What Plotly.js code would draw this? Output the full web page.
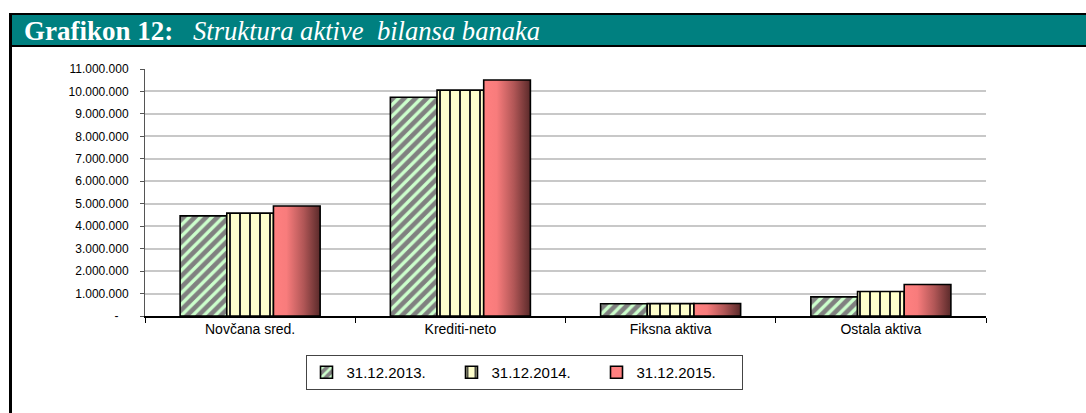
<!DOCTYPE html>
<html>
<head>
<meta charset="utf-8">
<script src="https://cdn.plot.ly/plotly-3.0.1.min.js"></script>
<style>
  html, body { margin: 0; padding: 0; background: #fff; }
  #chart { width: 1086px; height: 413px; }
</style>
</head>
<body>
<div id="chart"></div>
<script>
// ---- data ----
const categories = ["Novčana sred.", "Krediti-neto", "Fiksna aktiva", "Ostala aktiva"];
const seriesNames = ["31.12.2013.", "31.12.2014.", "31.12.2015."];
const values2013 = [4460000, 9740000, 545000, 850000];
const values2014 = [4580000, 10060000, 550000, 1090000];
const values2015 = [4900000, 10510000, 555000, 1400000];
const yTickVals = [0, 1000000, 2000000, 3000000, 4000000, 5000000, 6000000, 7000000, 8000000, 9000000, 10000000, 11000000];
const yTickText = ["-\u00a0\u00a0\u00a0", "1.000.000", "2.000.000", "3.000.000", "4.000.000", "5.000.000", "6.000.000", "7.000.000", "8.000.000", "9.000.000", "10.000.000", "11.000.000"];
const titleLabel = "Grafikon 12:";
const titleText = "Struktura aktive\u00a0\u00a0bilansa banaka";

// ---- layout helpers (pixel -> paper) ----
const W = 1086, H = 413;
const M = { l: 145, r: 100, t: 69, b: 97 };
const PW = W - M.l - M.r, PH = H - M.t - M.b;
const px = x => (x - M.l) / PW;
const py = y => (H - M.b - y) / PH;

const outline = { color: "#000", width: 1.6 };

const traces = [
  {
    type: "bar", name: seriesNames[0], x: categories, y: values2013,
    marker: { color: "#808080", line: outline,
      pattern: { shape: "/", fgcolor: "#ccffcc", bgcolor: "#808080", size: 8, solidity: 0.42 } },
    hoverinfo: "skip"
  },
  {
    type: "bar", name: seriesNames[1], x: categories, y: values2014,
    marker: { color: "#ffffcc", line: outline,
      pattern: { shape: "|", fgcolor: "#222222", bgcolor: "#ffffcc", size: 10, solidity: 0.2 } },
    hoverinfo: "skip"
  },
  {
    type: "bar", name: seriesNames[2], x: categories, y: values2015,
    marker: { color: "#ff8080", line: outline },
    hoverinfo: "skip"
  }
];

const layout = {
  width: W, height: H,
  margin: M,
  paper_bgcolor: "#fff", plot_bgcolor: "#fff",
  barmode: "group", bargap: 0.334, bargroupgap: 0,
  showlegend: true,
  font: { family: "Liberation Sans, Arial, sans-serif", color: "#000" },
  xaxis: {
    type: "category", showline: true, linecolor: "#000", linewidth: 1.5,
    ticks: "outside", tickson: "boundaries", ticklen: 5, tickcolor: "#000", tickwidth: 1,
    tickfont: { size: 14, color: "#000" }, showgrid: false, zeroline: false, fixedrange: true
  },
  yaxis: {
    range: [0, 11000000], tickmode: "array", tickvals: yTickVals, ticktext: yTickText,
    showline: true, linecolor: "#555", linewidth: 1, ticks: "outside", ticklen: 4, tickcolor: "#555",
    ticklabelstandoff: 9,
    showgrid: true, gridcolor: "#c8c8c8", gridwidth: 2, zeroline: false,
    tickfont: { size: 12, color: "#000" }, fixedrange: true
  },
  legend: {
    orientation: "h", x: px(524), xanchor: "center", y: py(355), yanchor: "top",
    bordercolor: "#444", borderwidth: 1, bgcolor: "#fff",
    font: { size: 15, color: "#000" }, itemwidth: 30,
    entrywidth: 100, traceorder: "normal"
  },
  shapes: [
    { type: "rect", xref: "paper", yref: "paper", x0: px(9), x1: px(1090), y0: py(13), y1: py(47),
      fillcolor: "#000", line: { width: 0 } },
    { type: "rect", xref: "paper", yref: "paper", x0: px(12), x1: px(1090), y0: py(15), y1: py(45),
      fillcolor: "#008080", line: { width: 0 } },
    { type: "rect", xref: "paper", yref: "paper", x0: px(9), x1: px(12), y0: py(13), y1: py(420),
      fillcolor: "#000", line: { width: 0 } }
  ],
  annotations: [
    { xref: "paper", yref: "paper", x: px(22), y: py(31), xanchor: "left", yanchor: "middle",
      text: "<b>" + titleLabel + "</b>", showarrow: false,
      font: { family: "Liberation Serif, Times New Roman, serif", size: 27, color: "#fff" } },
    { xref: "paper", yref: "paper", x: px(191), y: py(31), xanchor: "left", yanchor: "middle",
      text: "<i>" + titleText + "</i>", showarrow: false,
      font: { family: "Liberation Serif, Times New Roman, serif", size: 26.6, color: "#fff" } }
  ]
};

Plotly.newPlot("chart", traces, layout, { staticPlot: true, displayModeBar: false }).then(gd => {
  const svg = gd.querySelector(".main-svg");
  let defs = svg.querySelector("defs");
  const ns = "http://www.w3.org/2000/svg";
  if (!defs) { defs = document.createElementNS(ns, "defs"); svg.insertBefore(defs, svg.firstChild); }
  const lg = document.createElementNS(ns, "linearGradient");
  lg.setAttribute("id", "grad2015");
  lg.setAttribute("x1", "0"); lg.setAttribute("x2", "1"); lg.setAttribute("y1", "0"); lg.setAttribute("y2", "0");
  [["0", "#ff8080"], ["0.28", "#f87c7c"], ["0.65", "#b05656"], ["1", "#5a2a2a"]].forEach(([o, c]) => {
    const s = document.createElementNS(ns, "stop");
    s.setAttribute("offset", o); s.setAttribute("stop-color", c);
    lg.appendChild(s);
  });
  defs.appendChild(lg);
  const barTraces = gd.querySelectorAll(".barlayer .trace.bars");
  if (barTraces[2]) {
    barTraces[2].querySelectorAll("path").forEach(p => { p.style.fill = "url(#grad2015)"; });
  }
});
</script>
</body>
</html>
